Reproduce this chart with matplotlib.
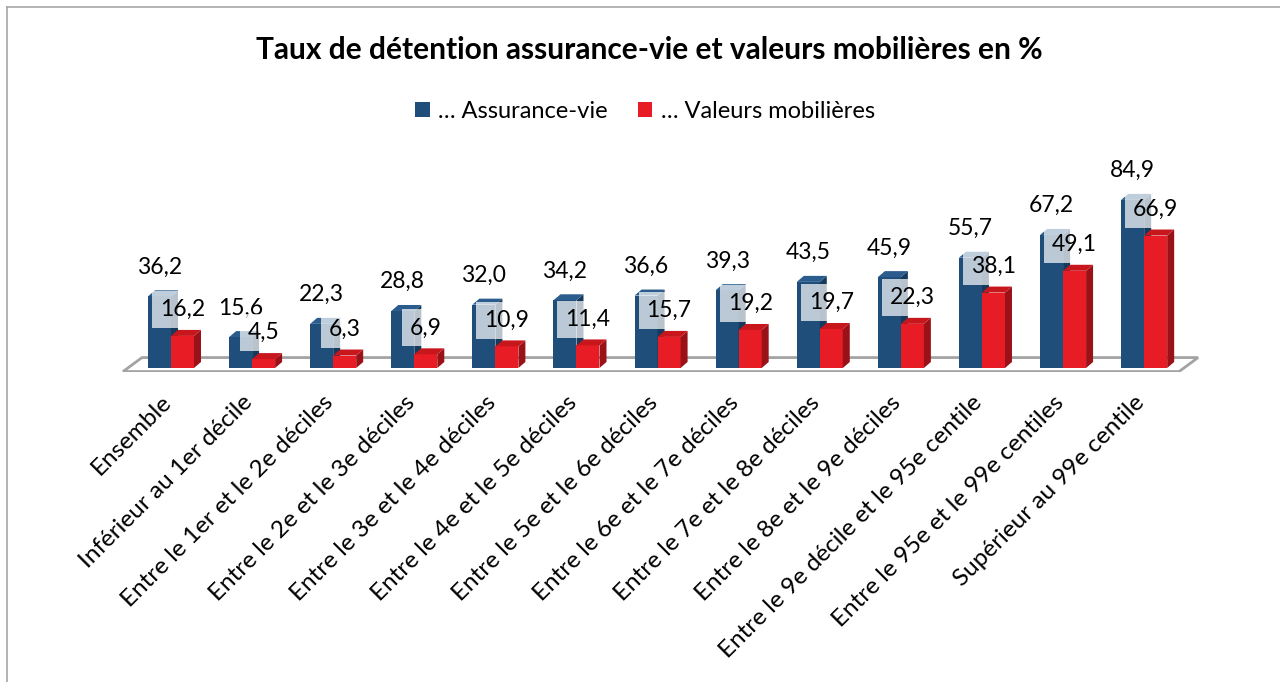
import matplotlib
matplotlib.use("Agg")
import matplotlib.pyplot as plt
from matplotlib.patches import Polygon
from matplotlib.lines import Line2D
import numpy as np

categories = [
    "Ensemble",
    "Inférieur au 1er décile",
    "Entre le 1er et le 2e déciles",
    "Entre le 2e et le 3e déciles",
    "Entre le 3e et le 4e déciles",
    "Entre le 4e et le 5e déciles",
    "Entre le 5e et le 6e déciles",
    "Entre le 6e et le 7e déciles",
    "Entre le 7e et le 8e déciles",
    "Entre le 8e et le 9e déciles",
    "Entre le 9e décile et le 95e centile",
    "Entre le 95e et le 99e centiles",
    "Supérieur au 99e centile",
]
assurance_vie = [36.2, 15.6, 22.3, 28.8, 32.0, 34.2, 36.6, 39.3, 43.5, 45.9, 55.7, 67.2, 84.9]
valeurs_mob = [16.2, 4.5, 6.3, 6.9, 10.9, 11.4, 15.7, 19.2, 19.7, 22.3, 38.1, 49.1, 66.9]
series_names = ["… Assurance-vie", "… Valeurs mobilières"]
title = "Taux de détention assurance-vie et valeurs mobilières en %"

plt.rcParams['font.family'] = ['Lato', 'DejaVu Sans']

W, H = 1280, 682
fig = plt.figure(figsize=(W / 100, H / 100), dpi=100)
fig.patch.set_facecolor('white')

# axes placement (pixels)
ax_left, ax_right, ax_top, ax_bottom = 100, 1220, 150, 372
ax = fig.add_axes([ax_left / W, (H - ax_bottom) / H, (ax_right - ax_left) / W, (ax_bottom - ax_top) / H])
ax.set_xlim(-0.8755, 12.935)
ax.set_ylim(-2.02, 110.1)
ax.axis('off')
ax.set_facecolor('none')

px_x = (ax_right - ax_left) / (12.935 + 0.8755)
px_y = (ax_bottom - ax_top) / (110.1 + 2.02)

x = np.arange(len(categories))
bw = 23 / px_x
ddx, ddy = 7 / px_x, 6 / px_y

# floor
fdx, fdy = 19 / px_x, 14 / px_y
fl, fr, fy = -0.592, 12.43, -1.8
floor = Polygon([(fl, fy), (fr, fy), (fr + fdx, fy + fdy), (fl + fdx, fy + fdy)],
                closed=True, facecolor='white', edgecolor='#a3a3a3', lw=2.0, zorder=1)
ax.add_patch(floor)

blue_front, blue_side, blue_top = '#1F4E7A', '#163A5C', '#2A5D8E'
red_front, red_side, red_top = '#E81C24', '#9A1218', '#C8161D'

def bar3d(x0, h, cf, cs, ct, z):
    x1 = x0 + bw
    ax.add_patch(Polygon([(x0, 0), (x1, 0), (x1, h), (x0, h)], closed=True,
                         fc=cf, ec='none', zorder=z))
    ax.add_patch(Polygon([(x1, 0), (x1 + ddx, ddy), (x1 + ddx, h + ddy), (x1, h)], closed=True,
                         fc=cs, ec='none', zorder=z))
    ax.add_patch(Polygon([(x0, h), (x1, h), (x1 + ddx, h + ddy), (x0 + ddx, h + ddy)], closed=True,
                         fc=ct, ec='none', zorder=z))

for i in range(len(categories)):
    bar3d(x[i] - bw, assurance_vie[i], blue_front, blue_side, blue_top, 2)
    bar3d(x[i], valeurs_mob[i], red_front, red_side, red_top, 3)

fmt = lambda v: f"{v:.1f}".replace('.', ',')
for i in range(len(categories)):
    ax.annotate(fmt(assurance_vie[i]), (x[i] - bw / 2, assurance_vie[i]), xytext=(0, 21),
                textcoords='offset points', ha='center', va='center', fontsize=16.5,
                color='black', zorder=5)
for i in range(len(categories)):
    ax.annotate(fmt(valeurs_mob[i]), (x[i] + bw / 2, valeurs_mob[i]), xytext=(0, 19),
                textcoords='offset points', ha='center', va='center', fontsize=16.5,
                color='black', zorder=6,
                bbox=dict(boxstyle='square,pad=0.35', fc='white', ec='none', alpha=0.7))

# category labels
for i, lab in enumerate(categories):
    ax.annotate(lab, (x[i], 0), xytext=(-7.5, -17), textcoords='offset points',
                rotation=45, rotation_mode='anchor', ha='right', va='top',
                fontsize=17.5, color='black', annotation_clip=False)

# title
fig.text(649 / W, (H - 50) / H, title, ha='center', va='center', fontsize=21.5,
         fontweight='bold', color='black')

# legend
handles = [Polygon([[0, 0]], fc=blue_front, ec='none'), Polygon([[0, 0]], fc=red_front, ec='none')]
fig.legend(handles, series_names, loc='center', bbox_to_anchor=(645 / W, (H - 111) / H),
           ncol=2, frameon=False, fontsize=17, handlelength=0.6, handleheight=0.6,
           handletextpad=0.35, columnspacing=1.3)

# chart border
fig.add_artist(Line2D([7 / W, 1.0], [(H - 7) / H, (H - 7) / H], transform=fig.transFigure,
                      color='#a6a6a6', lw=1.2))
fig.add_artist(Line2D([7 / W, 7 / W], [0, (H - 7) / H], transform=fig.transFigure,
                      color='#a6a6a6', lw=1.2))

fig.savefig('out.png', dpi=100)
